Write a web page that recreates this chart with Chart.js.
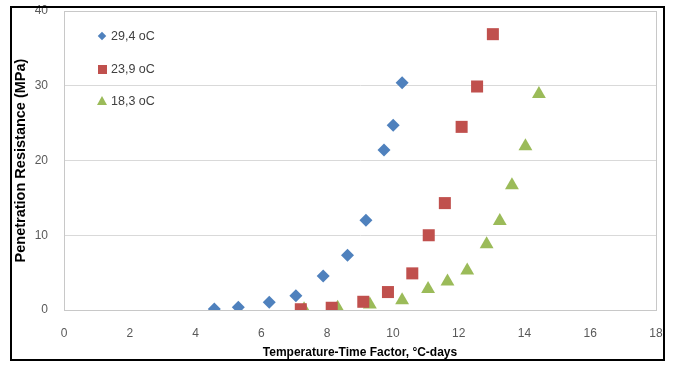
<!DOCTYPE html>
<html>
<head>
<meta charset="utf-8">
<script src="https://cdn.jsdelivr.net/npm/chart.js@4.4.1/dist/chart.umd.min.js"></script>
<style>
  html, body { margin: 0; padding: 0; background: #fff; }
  #wrap { position: relative; width: 674px; height: 365px; overflow: hidden; }
  #chart { position: absolute; left: 0; top: 0; }
  #frame {
    position: absolute; left: 10px; top: 6px; width: 655px; height: 355px;
    border: 2px solid #000; box-sizing: border-box; pointer-events: none;
  }
  .leg { position: absolute; left: 96px; height: 14px; font: 12.5px "Liberation Sans", Arial, sans-serif; color: #404040; line-height: 14px; }
  .leg span.txt { position: absolute; left: 15px; top: 0; white-space: nowrap; }
  .mk { position: absolute; left: 6px; top: 7px; }
</style>
</head>
<body>
<div id="wrap">
  <canvas id="chart" width="674" height="365"></canvas>
  <div id="legend"></div>
  <div id="frame"></div>
</div>
<script>
// series labels
const seriesLabels = ["29,4 oC", "23,9 oC", "18,3 oC"];
const seriesColors = ["#4f81bd", "#c0504d", "#9bbb59"];

// 29,4 oC (diamonds)
const hotX = [4.57, 5.30, 6.24, 7.05, 7.88, 8.62, 9.18, 9.73, 10.01, 10.28];
const hotY = [0.13, 0.36, 1.03, 1.91, 4.55, 7.32, 12.0, 21.4, 24.7, 30.4];

// 23,9 oC (squares)
const midX = [7.20, 8.14, 9.10, 9.85, 10.59, 11.09, 11.58, 12.09, 12.56, 13.04];
const midY = [0.1, 0.3, 1.1, 2.4, 4.9, 10.0, 14.3, 24.5, 29.9, 36.9];

// 18,3 oC (triangles)
const coldX = [7.30, 8.32, 9.30, 10.28, 11.07, 11.66, 12.26, 12.85, 13.25, 13.62, 14.03, 14.44];
const coldY = [0.1, 0.3, 0.75, 1.3, 2.8, 3.8, 5.3, 8.8, 11.9, 16.7, 21.9, 28.9];

const xTitle = "Temperature-Time Factor, °C-days";
const yTitle = "Penetration Resistance (MPa)";

function pts(xs, ys) {
  return xs.map((x, i) => ({ x: x, y: ys[i] }));
}

const plotBorder = {
  id: "plotBorder",
  afterDraw(chart) {
    const a = chart.chartArea;
    const ctx = chart.ctx;
    ctx.save();
    ctx.strokeStyle = "#c8c8c8";
    ctx.lineWidth = 1;
    ctx.strokeRect(Math.round(a.left) + 0.5, Math.round(a.top) + 0.5, Math.round(a.right - a.left), Math.round(a.bottom - a.top));
    ctx.restore();
  }
};

const ctx = document.getElementById("chart").getContext("2d");
new Chart(ctx, {
  type: "scatter",
  data: {
    datasets: [
      { label: seriesLabels[0], data: pts(hotX, hotY), pointStyle: "rectRot", pointRadius: 6.5,
        backgroundColor: seriesColors[0], borderColor: seriesColors[0], borderWidth: 0 },
      { label: seriesLabels[1], data: pts(midX, midY), pointStyle: "rect", pointRadius: 8.5,
        backgroundColor: seriesColors[1], borderColor: seriesColors[1], borderWidth: 0 },
      { label: seriesLabels[2], data: pts(coldX, coldY), pointStyle: "triangle", pointRadius: 8,
        backgroundColor: seriesColors[2], borderColor: seriesColors[2], borderWidth: 0 }
    ]
  },
  options: {
    responsive: false,
    animation: false,
    devicePixelRatio: 1,
    layout: { padding: { left: 12, top: 11, right: 18, bottom: 5 } },
    plugins: { legend: { display: false }, tooltip: { enabled: false } },
    scales: {
      x: {
        min: 0, max: 18,
        ticks: { stepSize: 2, color: "#595959", font: { family: "Liberation Sans", size: 12 }, padding: 2, maxRotation: 0 },
        grid: { color: "transparent", drawTicks: true, tickLength: 14, tickColor: "transparent" },
        border: { color: "#c8c8c8" },
        title: { display: true, text: xTitle, color: "#000", font: { family: "Liberation Sans", size: 12, weight: "bold" }, padding: { top: 0, bottom: 0 } },
        afterFit(scale) { scale.height = 50; }
      },
      y: {
        min: 0, max: 40,
        ticks: { stepSize: 10, color: "#595959", font: { family: "Liberation Sans", size: 12 }, padding: 2 },
        grid: { color: "#d9d9d9", drawTicks: true, tickLength: 14, tickColor: "transparent" },
        border: { color: "#c8c8c8" },
        title: { display: true, text: yTitle, color: "#000", font: { family: "Liberation Sans", size: 14.5, weight: "bold" }, padding: 0 },
        afterFit(scale) { scale.width = 52; }
      }
    }
  },
  plugins: [plotBorder]
});

// legend inside the plot area, top left
const legend = document.getElementById("legend");
const legendTops = [29, 62, 94];
seriesLabels.forEach((lab, i) => {
  const d = document.createElement("div");
  d.className = "leg";
  d.style.top = legendTops[i] + "px";
  let mk;
  if (i === 0) {
    mk = `<div class="mk" style="width:6px;height:6px;margin:-3px 0 0 -3px;background:${seriesColors[0]};transform:rotate(45deg)"></div>`;
  } else if (i === 1) {
    mk = `<div class="mk" style="width:9px;height:9px;margin:-4.5px 0 0 -4.5px;background:${seriesColors[1]}"></div>`;
  } else {
    mk = `<div class="mk" style="width:0;height:0;margin:-5px 0 0 -5px;border-left:5px solid transparent;border-right:5px solid transparent;border-bottom:9px solid ${seriesColors[2]}"></div>`;
  }
  d.innerHTML = mk + `<span class="txt">${lab}</span>`;
  legend.appendChild(d);
});
</script>
</body>
</html>
